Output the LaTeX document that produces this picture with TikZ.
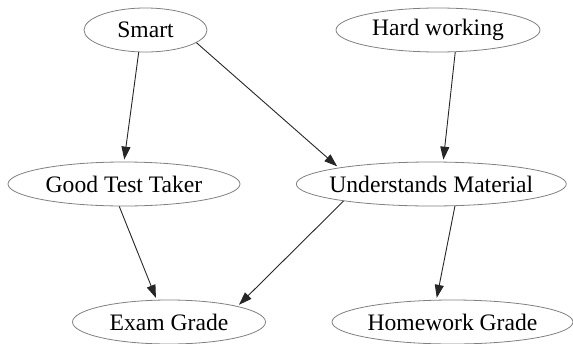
\documentclass[tikz,border=0pt]{standalone}
\usepackage{fontspec}
\setmainfont{Liberation Serif}
\usetikzlibrary{shapes.geometric,arrows.meta}
\begin{document}
\begin{tikzpicture}[x=1pt,y=-1pt,
  state/.style={ellipse, draw=black!50, line width=0.8pt, inner sep=0pt,
    minimum height=44pt, font=\fontsize{23.6}{28}\selectfont},
  link/.style={draw=black!85, line width=0.9pt,
    -{Triangle[length=13pt,width=9pt]}, shorten >=2pt}]
\useasboundingbox (0,0) rectangle (573,343);

% nodes (text box kept narrow so the ellipse size is set by the minimum sizes)
\node[state, minimum width=123pt] (smart) at (145.5,30)  {\makebox[0pt]{Smart}};
\node[state, minimum width=204pt] (hard)  at (438,30)    {\makebox[0pt]{Hard working}};
\node[state, minimum width=232pt] (good)  at (124,184)   {\makebox[0pt]{Good Test Taker}};
\node[state, minimum width=270pt] (und)   at (431.3,184) {\makebox[0pt]{Understands Material}};
\node[state, minimum width=193pt] (exam)  at (169,322)   {\makebox[0pt]{Exam Grade}};
\node[state, minimum width=241pt] (hw)    at (452.5,322) {\makebox[0pt]{Homework Grade}};

% edges
\draw[link] (smart.253) -- (good.90);
\draw[link] (smart.-14) -- (und.170);
\draw[link] (hard.-52)  -- (und.62);
\draw[link] (good.258)  -- (exam.119);
\draw[link] (und.191)   -- (exam.13);
\draw[link] (und.-43)   -- (hw.126);
\end{tikzpicture}
\end{document}
